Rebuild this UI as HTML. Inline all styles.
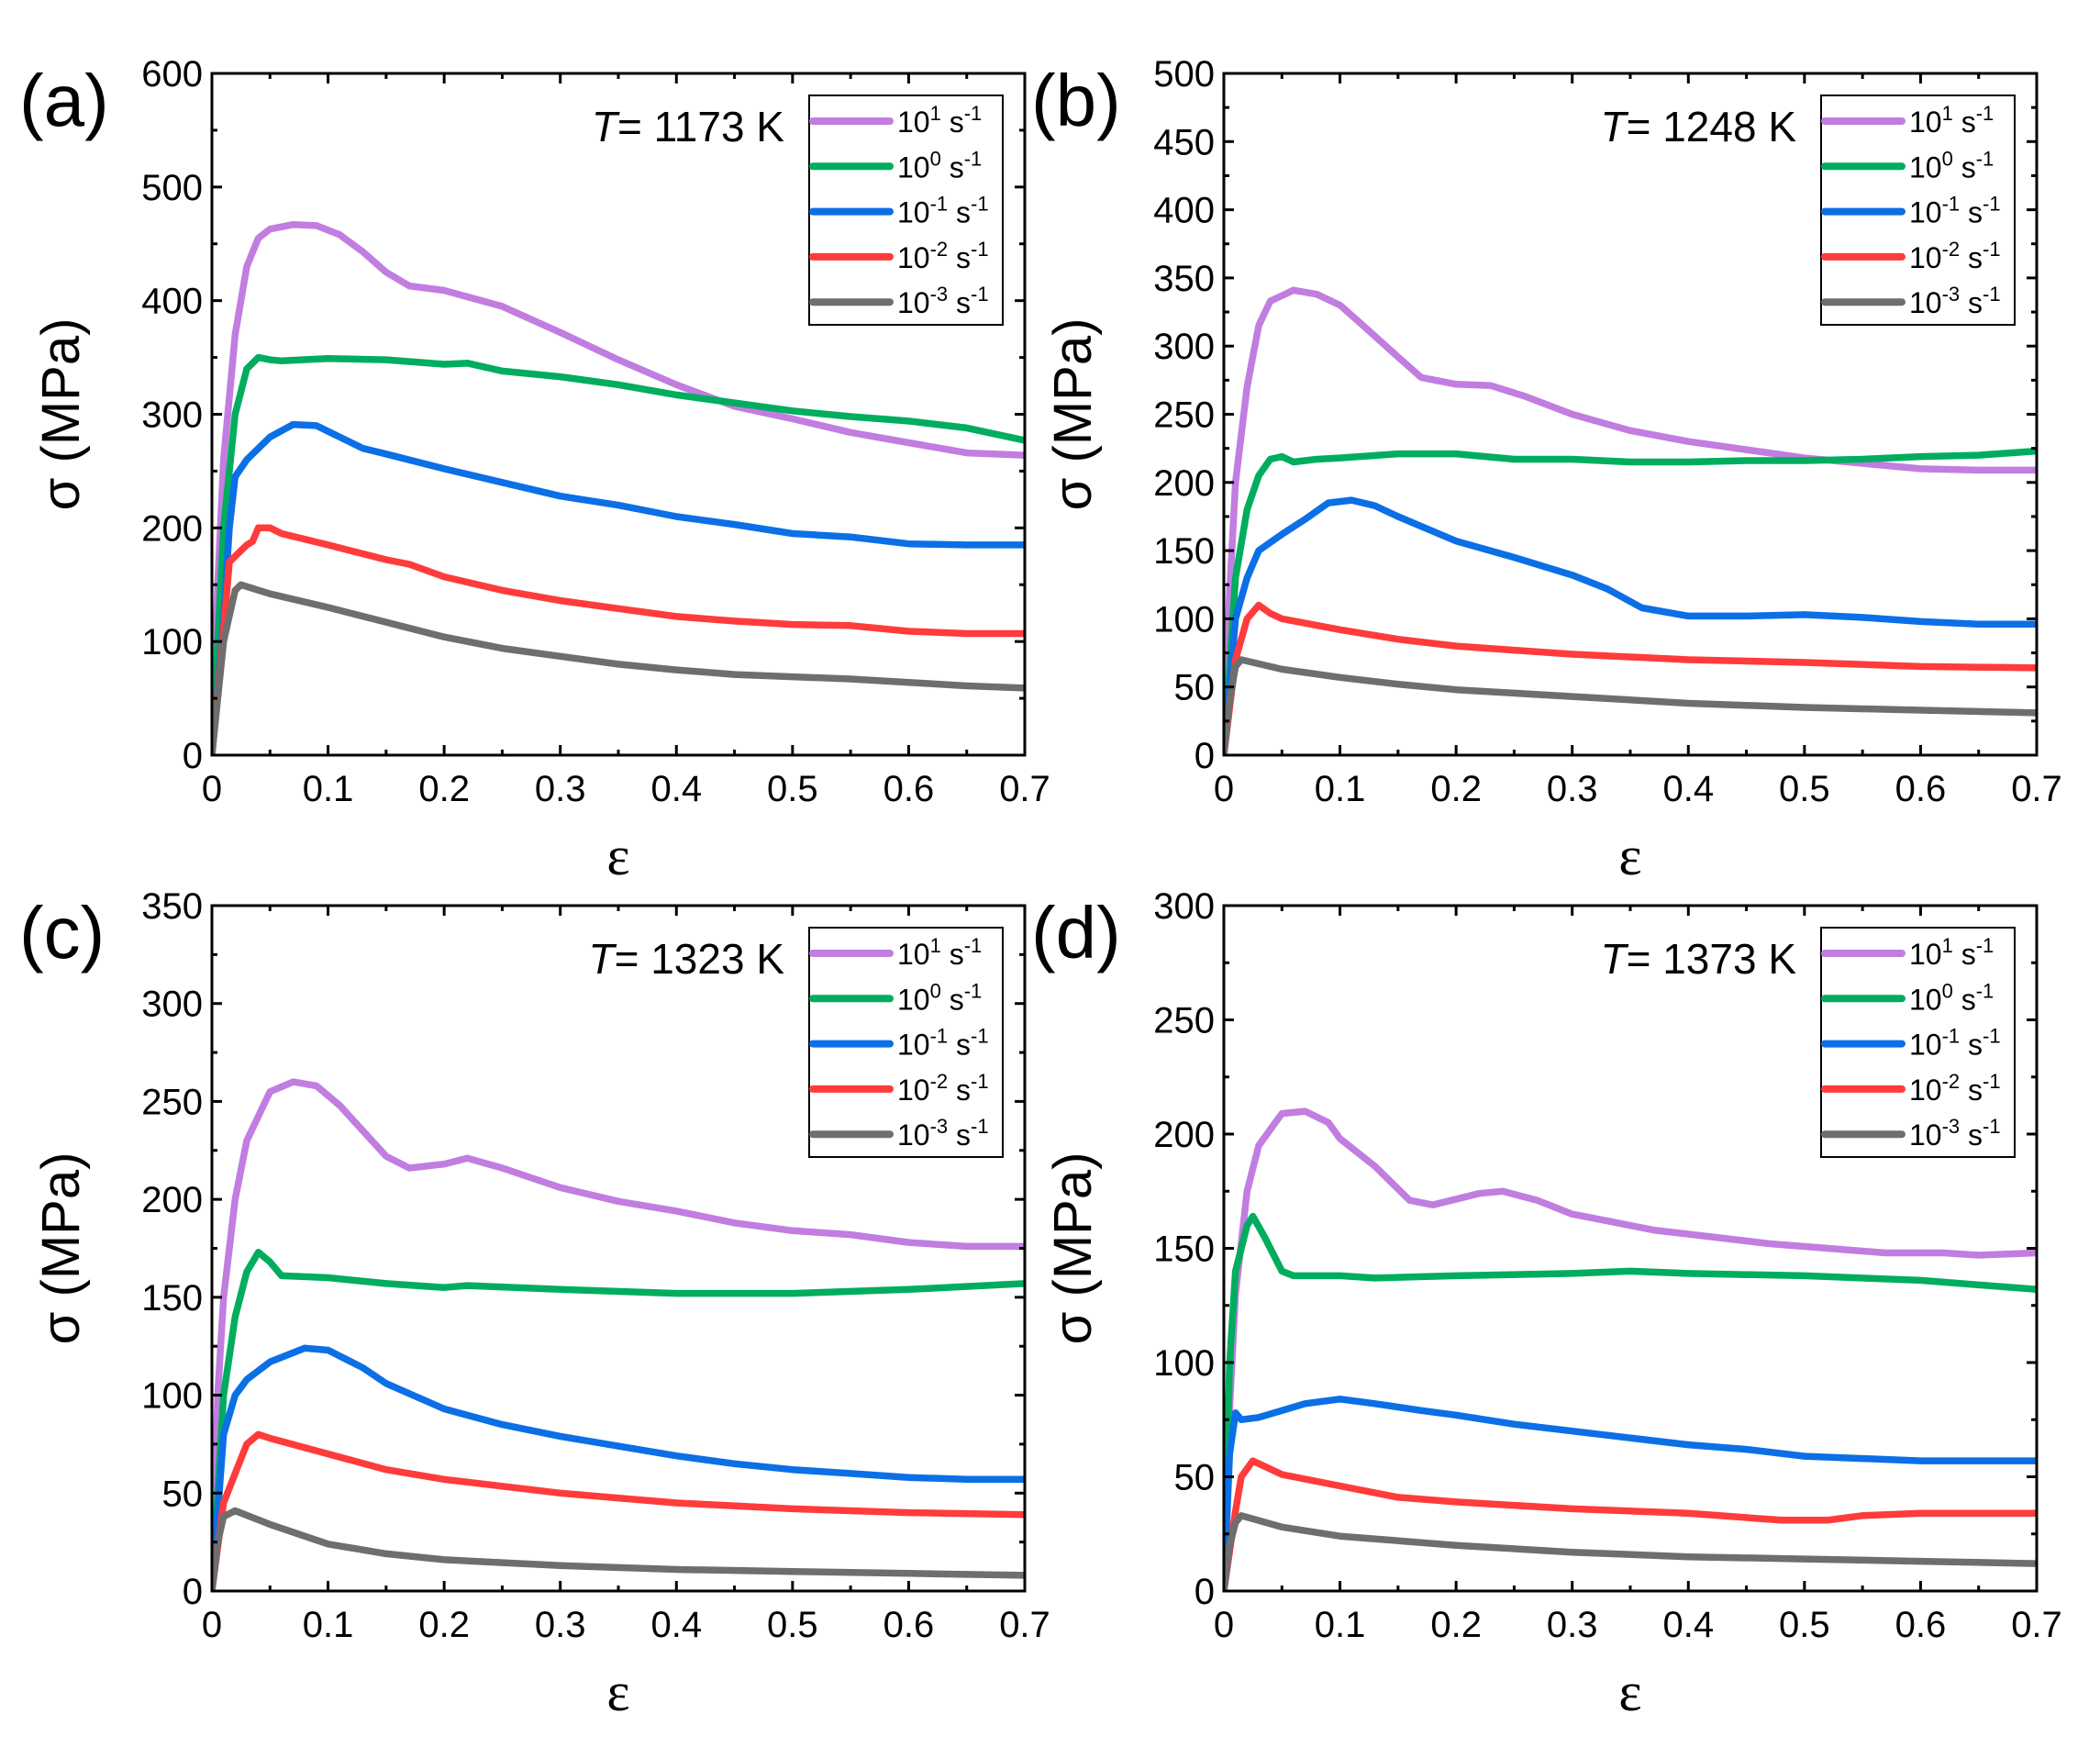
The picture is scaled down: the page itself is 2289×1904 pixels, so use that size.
<!DOCTYPE html>
<html><head><meta charset="utf-8">
<style>
html,body{margin:0;padding:0;background:#fff;}
svg{display:block;font-family:"Liberation Sans",Arial,sans-serif;}
</style></head>
<body>
<svg id="fig" width="2289" height="1904" viewBox="0 0 2289 1904" xmlns="http://www.w3.org/2000/svg"></svg>
<script>
// ---- data ----
const seriesLabels = ["10^1","10^0","10^-1","10^-2","10^-3"];
const seriesExps = ["1","0","-1","-2","-3"];
const seriesColors = ["#c17de0","#00ad5e","#0b6fe6","#ff3b3b","#6e6e6e"];
const panelLetters = ["(a)","(b)","(c)","(d)"];
const panelTemps = ["1173","1248","1323","1373"];
const panelYMax = [600,500,350,300];
const panelYStep = [100,50,50,50];
const xTicks = [0,0.1,0.2,0.3,0.4,0.5,0.6,0.7];

// panel a
const aPurpleX=[0,0.005,0.01,0.02,0.03,0.04,0.05,0.07,0.09,0.11,0.13,0.15,0.17,0.2,0.25,0.3,0.35,0.4,0.45,0.5,0.55,0.6,0.65,0.7];
const aPurpleY=[0,150,260,370,430,455,463,467,466,458,443,425,413,409,395,372,348,326,307,296,284,275,266,264];
const aGreenX=[0,0.01,0.02,0.03,0.04,0.05,0.06,0.1,0.15,0.2,0.22,0.25,0.3,0.35,0.4,0.45,0.5,0.55,0.6,0.65,0.7];
const aGreenY=[0,200,300,340,350,348,347,349,348,344,345,338,333,326,317,310,303,298,294,288,277];
const aBlueX=[0,0.01,0.015,0.02,0.03,0.05,0.07,0.09,0.1,0.13,0.15,0.2,0.25,0.3,0.35,0.4,0.45,0.5,0.55,0.6,0.65,0.7];
const aBlueY=[0,120,200,245,260,280,291,290,285,270,265,252,240,228,220,210,203,195,192,186,185,185];
const aRedX=[0,0.01,0.015,0.02,0.03,0.035,0.04,0.05,0.06,0.1,0.15,0.17,0.2,0.25,0.3,0.35,0.4,0.45,0.5,0.55,0.6,0.65,0.7];
const aRedY=[0,110,170,175,185,188,200,200,195,185,172,168,157,145,136,129,122,118,115,114,109,107,107];
const aGrayX=[0,0.01,0.02,0.025,0.05,0.1,0.15,0.2,0.25,0.3,0.35,0.4,0.45,0.5,0.55,0.6,0.65,0.7];
const aGrayY=[0,100,145,150,142,130,117,104,94,87,80,75,71,69,67,64,61,59];
// panel b
const bPurpleX=[0,0.005,0.01,0.02,0.03,0.04,0.06,0.08,0.1,0.12,0.15,0.17,0.2,0.23,0.26,0.3,0.35,0.4,0.45,0.5,0.55,0.6,0.65,0.7];
const bPurpleY=[0,120,200,270,315,333,341,338,330,315,292,277,272,271,263,250,238,230,224,218,214,210,209,209];
const bGreenX=[0,0.01,0.02,0.03,0.04,0.05,0.06,0.08,0.1,0.15,0.2,0.25,0.3,0.35,0.4,0.45,0.5,0.55,0.6,0.65,0.7];
const bGreenY=[0,130,180,205,217,219,215,217,218,221,221,217,217,215,215,216,216,217,219,220,223];
const bBlueX=[0,0.01,0.02,0.03,0.05,0.07,0.09,0.11,0.13,0.15,0.2,0.25,0.3,0.33,0.36,0.4,0.45,0.5,0.55,0.6,0.65,0.7];
const bBlueY=[0,100,130,150,162,173,185,187,183,175,157,145,132,122,108,102,102,103,101,98,96,96];
const bRedX=[0,0.01,0.02,0.03,0.04,0.05,0.1,0.15,0.2,0.25,0.3,0.4,0.5,0.6,0.7];
const bRedY=[0,70,100,110,104,100,92,85,80,77,74,70,68,65,64];
const bGrayX=[0,0.005,0.01,0.015,0.05,0.1,0.15,0.2,0.3,0.4,0.5,0.6,0.7];
const bGrayY=[0,40,65,70,63,57,52,48,43,38,35,33,31];
// panel c
const cPurpleX=[0,0.005,0.01,0.02,0.03,0.05,0.07,0.09,0.11,0.13,0.15,0.17,0.2,0.22,0.25,0.3,0.35,0.4,0.45,0.5,0.55,0.6,0.65,0.7];
const cPurpleY=[0,100,150,200,230,255,260,258,248,235,222,216,218,221,216,206,199,194,188,184,182,178,176,176];
const cGreenX=[0,0.01,0.02,0.03,0.04,0.05,0.06,0.1,0.15,0.2,0.22,0.3,0.4,0.5,0.6,0.7];
const cGreenY=[0,100,140,163,173,168,161,160,157,155,156,154,152,152,154,157];
const cBlueX=[0,0.01,0.02,0.03,0.05,0.08,0.1,0.13,0.15,0.2,0.25,0.3,0.35,0.4,0.45,0.5,0.55,0.6,0.65,0.7];
const cBlueY=[0,80,100,108,117,124,123,114,106,93,85,79,74,69,65,62,60,58,57,57];
const cRedX=[0,0.01,0.02,0.03,0.04,0.05,0.1,0.15,0.2,0.3,0.4,0.5,0.6,0.7];
const cRedY=[0,45,60,75,80,78,70,62,57,50,45,42,40,39];
const cGrayX=[0,0.005,0.01,0.02,0.05,0.1,0.15,0.2,0.3,0.4,0.5,0.6,0.7];
const cGrayY=[0,25,38,41,34,24,19,16,13,11,10,9,8];
// panel d
const dPurpleX=[0,0.005,0.01,0.02,0.03,0.05,0.07,0.09,0.1,0.13,0.16,0.18,0.22,0.24,0.27,0.3,0.33,0.37,0.42,0.47,0.52,0.57,0.62,0.65,0.7];
const dPurpleY=[0,80,130,175,195,209,210,205,198,186,171,169,174,175,171,165,162,158,155,152,150,148,148,147,148];
const dGreenX=[0,0.005,0.01,0.02,0.025,0.035,0.05,0.06,0.1,0.13,0.2,0.3,0.35,0.4,0.5,0.6,0.7];
const dGreenY=[0,100,140,160,164,155,140,138,138,137,138,139,140,139,138,136,132];
const dBlueX=[0,0.005,0.01,0.015,0.03,0.05,0.07,0.1,0.13,0.17,0.2,0.25,0.3,0.35,0.4,0.45,0.5,0.55,0.6,0.65,0.7];
const dBlueY=[0,60,78,75,76,79,82,84,82,79,77,73,70,67,64,62,59,58,57,57,57];
const dRedX=[0,0.01,0.015,0.025,0.05,0.1,0.15,0.2,0.3,0.4,0.48,0.52,0.55,0.6,0.7];
const dRedY=[0,35,50,57,51,46,41,39,36,34,31,31,33,34,34];
const dGrayX=[0,0.005,0.01,0.015,0.05,0.1,0.2,0.3,0.4,0.5,0.6,0.7];
const dGrayY=[0,20,30,33,28,24,20,17,15,14,13,12];

const panelSeriesX=[[aPurpleX,aGreenX,aBlueX,aRedX,aGrayX],[bPurpleX,bGreenX,bBlueX,bRedX,bGrayX],[cPurpleX,cGreenX,cBlueX,cRedX,cGrayX],[dPurpleX,dGreenX,dBlueX,dRedX,dGrayX]];
const panelSeriesY=[[aPurpleY,aGreenY,aBlueY,aRedY,aGrayY],[bPurpleY,bGreenY,bBlueY,bRedY,bGrayY],[cPurpleY,cGreenY,cBlueY,cRedY,cGrayY],[dPurpleY,dGreenY,dBlueY,dRedY,dGrayY]];

// ---- layout ----
const NS="http://www.w3.org/2000/svg";
const svg=document.getElementById('fig');
const colL=[231,1334], colR=[1117,2220], rowT=[80,987], rowB=[823,1734];
function mk(tag,attrs,parent){const e=document.createElementNS(NS,tag);for(const k in attrs)e.setAttribute(k,attrs[k]);parent.appendChild(e);return e;}

for(let p=0;p<4;p++){
  const L=colL[p%2],R=colR[p%2],T=rowT[Math.floor(p/2)],B=rowB[Math.floor(p/2)];
  const ymax=panelYMax[p], ystep=panelYStep[p];
  const sx=v=>L+(v/0.7)*(R-L);
  const sy=v=>B-(v/ymax)*(B-T);
  const g=mk('g',{},svg);
  
  
  const cp=mk('clipPath',{id:'clip'+p},g);
  mk('rect',{x:L,y:T,width:R-L,height:B-T},cp);
  const sg=mk('g',{'clip-path':'url(#clip'+p+')'},g);
  for(let s=0;s<5;s++){
    const xs=panelSeriesX[p][s], ys=panelSeriesY[p][s];
    let d='';
    for(let i=0;i<xs.length;i++) d+=(i?'L':'M')+sx(xs[i]).toFixed(1)+' '+sy(ys[i]).toFixed(1);
    const path=mk('path',{d:d,fill:'none',stroke:seriesColors[s],'stroke-width':7.5,'stroke-linejoin':'round','stroke-linecap':'round'},sg);
    
    
  }
  const box=mk('rect',{x:L,y:T,width:R-L,height:B-T,fill:'none',stroke:'#000','stroke-width':3},g);
  
  
  for(let i=0;i<=14;i++){
    const v=i*0.05, x=sx(v), len=(i%2===0)?11:6;
    mk('line',{x1:x,y1:B,x2:x,y2:B-len,stroke:'#000','stroke-width':3},g);
    mk('line',{x1:x,y1:T,x2:x,y2:T+len,stroke:'#000','stroke-width':3},g);
  }
  xTicks.forEach(v=>{
    const t=mk('text',{x:sx(v),y:B+50,'font-size':40,'text-anchor':'middle'},g);
    t.textContent=(v===0?'0':v.toFixed(1));
    
    
  });
  const nMinor=Math.round(ymax/(ystep/2));
  for(let i=0;i<=nMinor;i++){
    const v=i*ystep/2, y=sy(v), len=(i%2===0)?11:6;
    mk('line',{x1:L,y1:y,x2:L+len,y2:y,stroke:'#000','stroke-width':3},g);
    mk('line',{x1:R,y1:y,x2:R-len,y2:y,stroke:'#000','stroke-width':3},g);
  }
  for(let v=0;v<=ymax;v+=ystep){
    const t=mk('text',{x:L-10,y:sy(v)+14,'font-size':40,'text-anchor':'end'},g);
    t.textContent=String(v);
    
    
  }
  const xt=mk('text',{x:(L+R)/2,y:B+130,'font-size':60,'text-anchor':'middle','font-family':'"Liberation Serif",serif'},g);
  xt.textContent='ε';
  
  
  const yx=L-145, yc=(T+B)/2;
  const yt=mk('text',{x:yx,y:yc,'font-size':58,'text-anchor':'middle',transform:'rotate(-90 '+yx+' '+yc+')'},g);
  yt.textContent='σ (MPa)';
  
  
  const pl=mk('text',{x:L-210,y:T+57,'font-size':80},g);
  pl.textContent=panelLetters[p];
  
  
  const tt=mk('text',{x:L+624,y:T+74,'font-size':46,'text-anchor':'end'},g);
  const ti=mk('tspan',{'font-style':'italic'},tt); ti.textContent='T';
  const tr=mk('tspan',{},tt); tr.textContent='= '+panelTemps[p]+' K';
  
  
  const lg=mk('g',{},g);
  
  
  const lx=L+651, ly=T+24;
  mk('rect',{x:lx,y:ly,width:211,height:250,fill:'#fff',stroke:'#000','stroke-width':2},lg);
  for(let s=0;s<5;s++){
    const yy=ly+28+s*49.3;
    const e=mk('g',{},lg);
    
    
    mk('line',{x1:lx+4,y1:yy,x2:lx+88,y2:yy,stroke:seriesColors[s],'stroke-width':8,'stroke-linecap':'round'},e);
    const t=mk('text',{x:lx+96,y:yy+12,'font-size':32},e);
    const a=mk('tspan',{},t); a.textContent='10';
    const b=mk('tspan',{dy:-13,'font-size':22},t); b.textContent=seriesExps[s];
    const c=mk('tspan',{dy:13},t); c.textContent=' s';
    const d=mk('tspan',{dy:-13,'font-size':22},t); d.textContent='-1';
  }
}
</script>
</body></html>
